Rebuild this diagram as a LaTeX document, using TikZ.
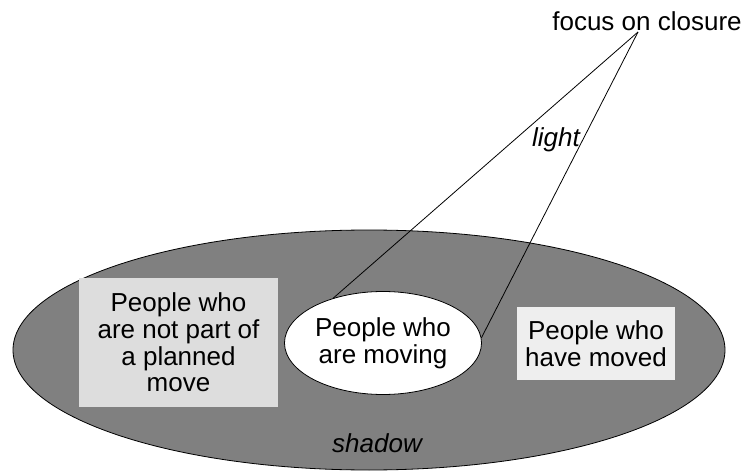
\documentclass[tikz,border=0pt]{standalone}
\usepackage{fontspec}
\setmainfont{Liberation Sans}
\usetikzlibrary{shapes.geometric}
\definecolor{shadowgray}{RGB}{128,128,128}
\definecolor{boxgray}{RGB}{221,221,221}
\definecolor{palegray}{RGB}{238,238,238}

\begin{document}
\begin{tikzpicture}[x=0.5pt,y=-0.5pt,
  txt/.style={font=\fontsize{13}{13.3}\selectfont,align=center},
  group/.style={txt,fill=boxgray,inner sep=0pt}]
\useasboundingbox (0,0) rectangle (746,471);
% the shadow
\node [ellipse,draw,fill=shadowgray,minimum width=356pt,minimum height=120pt,inner sep=0pt] (shadow) at (369,350) {};
\node [txt] (shadowlabel) at (377,443) {\itshape shadow};

% the groups
\node [group,minimum width=99.5pt,minimum height=64.5pt] (notpart) at (178.5,342.5) {People who\\are not part of\\a planned\\move};
\node [group,fill=palegray,minimum width=79pt,minimum height=36.5pt] (moved) at (596,343.5) {People who\\have moved};
\node [txt,ellipse,draw,fill=white,minimum width=98.5pt,minimum height=51.5pt,inner sep=0pt] (moving) at (383,343) {People who\\are moving};

% the light
\node [txt] (focus) at (647,21.5) {focus on closure};
\coordinate (apex) at (638,32);
\draw (apex) -- (moving.138);
\draw (apex) -- (moving.3);
\node [txt] (light) at (556,140) {\itshape light};

\end{tikzpicture}
\end{document}
